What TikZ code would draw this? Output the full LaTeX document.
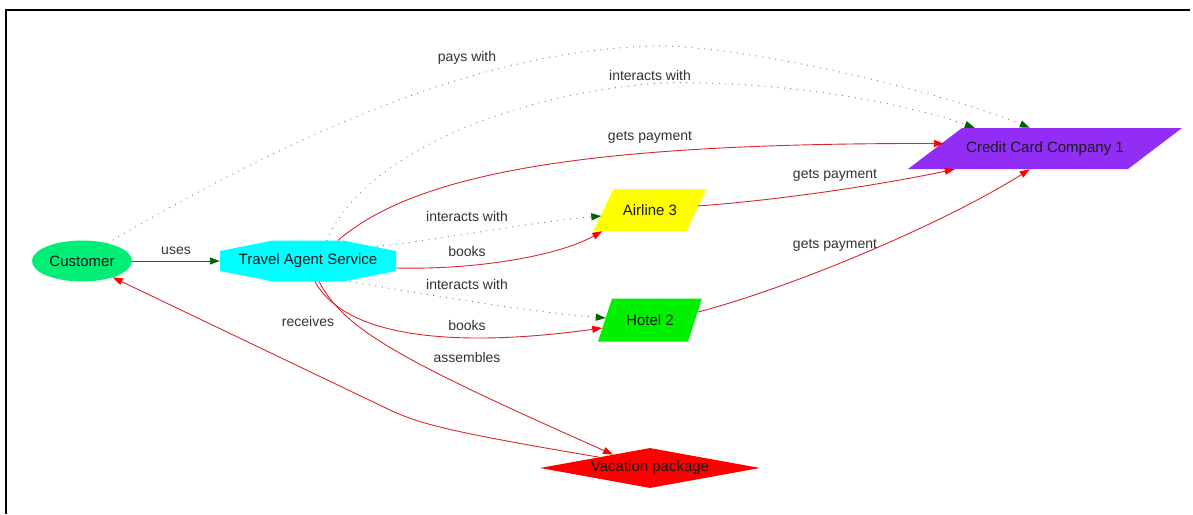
\documentclass[tikz,border=0pt]{standalone}
\usepackage{fontspec}
\setmainfont{Liberation Sans}
\usetikzlibrary{shapes.geometric,arrows.meta}
\definecolor{custgreen}{RGB}{0,238,118}
\definecolor{tascyan}{RGB}{0,255,255}
\definecolor{airyellow}{RGB}{255,255,0}
\definecolor{hotelgreen}{RGB}{0,240,0}
\definecolor{cccpurple}{RGB}{145,45,245}
\definecolor{vacred}{RGB}{255,0,0}
\definecolor{linkred}{RGB}{215,40,45}
\definecolor{arrowgreen}{RGB}{0,100,0}
\definecolor{usegreen}{RGB}{35,95,35}
\definecolor{dotgray}{RGB}{110,110,110}
\definecolor{labeltext}{RGB}{50,50,50}
\definecolor{nodetext}{RGB}{25,25,25}
\tikzset{
  octa/.style={path picture={
    \fill[#1] ([yshift=-10.5pt]path picture bounding box.north west) -- ([xshift=53pt]path picture bounding box.north west)
      -- ([xshift=-53pt]path picture bounding box.north east) -- ([yshift=-10.5pt]path picture bounding box.north east)
      -- ([yshift=10.5pt]path picture bounding box.south east) -- ([xshift=-53pt]path picture bounding box.south east)
      -- ([xshift=53pt]path picture bounding box.south west) -- ([yshift=10.5pt]path picture bounding box.south west) -- cycle;}},
  slanted/.style 2 args={path picture={
    \fill[#1] ([xshift=#2]path picture bounding box.north west) -- (path picture bounding box.north east)
      -- ([xshift=-#2]path picture bounding box.south east) -- (path picture bounding box.south west) -- cycle;}}
}
\begin{document}
\begin{tikzpicture}[x=1pt, y=-1pt]
  \tikzstyle{entity}=[inner sep=0pt, text=nodetext, font=\fontsize{15}{18}\selectfont]
  \tikzstyle{elabel}=[inner sep=1pt, text=labeltext, font=\fontsize{14}{17}\selectfont]
  \tikzstyle{link}=[draw=linkred, line width=0.9pt, -{Triangle[length=10pt, width=7pt, color=vacred]}]
  \tikzstyle{dots}=[draw=dotgray, line width=1.2pt, line cap=round, dash pattern=on 0.01pt off 6.5pt, -{Triangle[length=10pt, width=7pt, color=arrowgreen]}]
  \useasboundingbox (0,0) rectangle (1193,514);
  \draw[line width=1.3pt] (6,514) -- (6,10) -- (1190,10);

  \node[entity, ellipse, fill=custgreen, minimum width=100pt, minimum height=41pt] (cust) at (82,261) {Customer};
  \node[entity, octa=tascyan, minimum width=176pt, minimum height=41pt] (tas) at (308,261) {Travel Agent Service};
  \node[entity, slanted={airyellow}{20pt}, minimum width=113pt, minimum height=42pt] (air) at (650,210) {Airline 3};
  \node[entity, slanted={hotelgreen}{14pt}, minimum width=104pt, minimum height=43pt] (hotel) at (650,320) {Hotel 2};
  \node[entity, slanted={cccpurple}{54pt}, minimum width=274pt, minimum height=41pt] (ccc) at (1045,148.5) {Credit Card Company 1};
  \node[entity, diamond, aspect=5.5, fill=vacred, minimum width=220pt, minimum height=40pt] (vac) at (650,468) {Vacation package};

  \draw[draw=usegreen, line width=0.9pt, -{Triangle[length=10pt, width=7pt, color=arrowgreen]}] (cust) -- (tas);
  \node[elabel] (luses) at (176,251) {uses};

  \draw[dots] (cust.35) .. controls (300,130) and (490,46) .. (667,46) .. controls (770,50) and (950,95) .. ([xshift=122pt]ccc.north west);
  \node[elabel] (lpays) at (467,58) {pays with};

  \draw[dots] ([xshift=19pt]tas.north) .. controls (360,160) and (500,95) .. (660,83) .. controls (790,80) and (910,105) .. ([xshift=67pt]ccc.north west);
  \node[elabel] (lint1) at (650,75) {interacts with};

  \draw[link] ([xshift=30pt]tas.north) .. controls (420,170) and (600,143) .. ([xshift=36pt, yshift=5pt]ccc.west);
  \node[elabel] (lpay1) at (650,137) {gets payment};

  \draw[dots] ([xshift=-19pt, yshift=-6pt]tas.north east) .. controls (440,240) and (530,222) .. ([xshift=8pt, yshift=-6pt]air.west);
  \node[elabel] (lint2) at (467,216) {interacts with};

  \draw[link] ([yshift=-7pt]tas.east) .. controls (480,270) and (560,255) .. ([xshift=9pt]air.south west);
  \node[elabel] (lbook1) at (467,251) {books};

  \draw[dots] ([xshift=-46pt]tas.south east) .. controls (430,295) and (530,312) .. ([xshift=8pt, yshift=2pt]hotel.west);
  \node[elabel] (lint3) at (467,284) {interacts with};

  \draw[link] ([xshift=7pt]tas.south) .. controls (350,345) and (480,345) .. ([xshift=4.5pt, yshift=-8pt]hotel.west);
  \node[elabel] (lbook2) at (467,325) {books};

  \draw[link] ([xshift=11pt]tas.south) .. controls (345,330) and (400,360) .. (vac.160);
  \node[elabel] (lasm) at (467,357) {assembles};

  \draw[link] (vac.168) .. controls (450,432) and (420,424) .. (390,410) -- (cust.-28);
  \node[elabel] (lrec) at (308,321) {receives};

  \draw[link] ([xshift=-9pt, yshift=4pt]air.east) .. controls (780,200) and (880,185) .. ([xshift=47pt]ccc.south west);
  \node[elabel] (lpay2) at (835,175) {gets payment};

  \draw[link] ([xshift=-4pt, yshift=8pt]hotel.east) .. controls (800,285) and (950,220) .. ([xshift=122pt]ccc.south west);
  \node[elabel] (lpay3) at (835,245) {gets payment};
\end{tikzpicture}
\end{document}
